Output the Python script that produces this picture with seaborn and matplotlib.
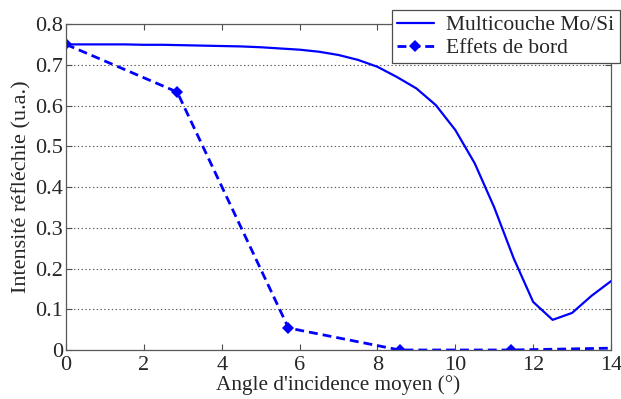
import pandas as pd
import matplotlib
matplotlib.use("Agg")
import matplotlib.pyplot as plt
import seaborn as sns

# Courbe multicouche Mo/Si
angle_multi = [0, 0.5, 1, 1.5, 2, 2.5, 3, 3.5, 4, 4.5, 5, 5.5, 6, 6.5, 7,
               7.5, 8, 8.5, 9, 9.5, 10, 10.5, 11, 11.5, 12, 12.5, 13, 13.5, 14]
intens_multi = [0.750, 0.750, 0.750, 0.750, 0.749, 0.749, 0.748, 0.747, 0.746,
                0.745, 0.743, 0.740, 0.737, 0.732, 0.724, 0.712, 0.695, 0.670,
                0.642, 0.601, 0.540, 0.458, 0.350, 0.225, 0.118, 0.074, 0.091,
                0.133, 0.169]

# Effets de bord
angle_bord = [0, 2.857, 5.714, 8.571, 11.429, 14.286]
intens_bord = [0.750, 0.633, 0.054, 0.0, 0.0, 0.005]

x_ticks = [0, 2, 4, 6, 8, 10, 12, 14]
y_ticks = [0, 0.1, 0.2, 0.3, 0.4, 0.5, 0.6, 0.7, 0.8]
y_labels = ["0", "0.1", "0.2", "0.3", "0.4", "0.5", "0.6", "0.7", "0.8"]

sns.set_theme(style="white")
plt.rcParams['font.family'] = ['Liberation Serif', 'DejaVu Serif']

fig = plt.figure(figsize=(6.21, 3.99), dpi=100)
ax = fig.add_axes([0.1063, 0.1228, 0.8776, 0.817])

sns.lineplot(x=angle_multi, y=intens_multi, ax=ax, color=(0, 0, 1), linewidth=1.6,
             label="Multicouche Mo/Si")
sns.lineplot(x=angle_bord, y=intens_bord, ax=ax, color=(0, 0, 1), linewidth=2.0,
             linestyle=(0, (3.2, 1.8)), marker="D", markersize=6.5, markeredgewidth=0,
             label="Effets de bord")

ax.set_xlim(0, 14)
ax.set_ylim(0, 0.8)
ax.set_xticks(x_ticks)
ax.set_xticklabels([str(t) for t in x_ticks])
ax.set_yticks(y_ticks)
ax.set_yticklabels(y_labels)
ax.yaxis.grid(True, linestyle=(0, (1.2, 2.2)), color="0.35", linewidth=0.8)
ax.xaxis.grid(False)

ax.tick_params(direction="in", top=True, right=True, bottom=True, left=True,
               length=4, width=0.8, color="0.3", labelsize=16, pad=2)
ax.tick_params(axis="x", pad=4)
for s in ax.spines.values():
    s.set_color("0.35")
    s.set_linewidth(0.9)

ax.set_xlabel("Angle d'incidence moyen (°)", fontsize=15.3, labelpad=0.5)
ax.set_ylabel("Intensité réfléchie (u.a.)", fontsize=16, labelpad=3)

leg = ax.legend(loc="upper right", bbox_to_anchor=(620 / 621, 1 - 10 / 399),
                bbox_transform=fig.transFigure, fontsize=15.5, frameon=True,
                fancybox=False, edgecolor="0.3", framealpha=1, borderpad=0.25,
                labelspacing=0.12, handlelength=1.7, handletextpad=0.6,
                borderaxespad=0)
leg.get_frame().set_linewidth(0.9)

fig.savefig("out.png", dpi=100)
